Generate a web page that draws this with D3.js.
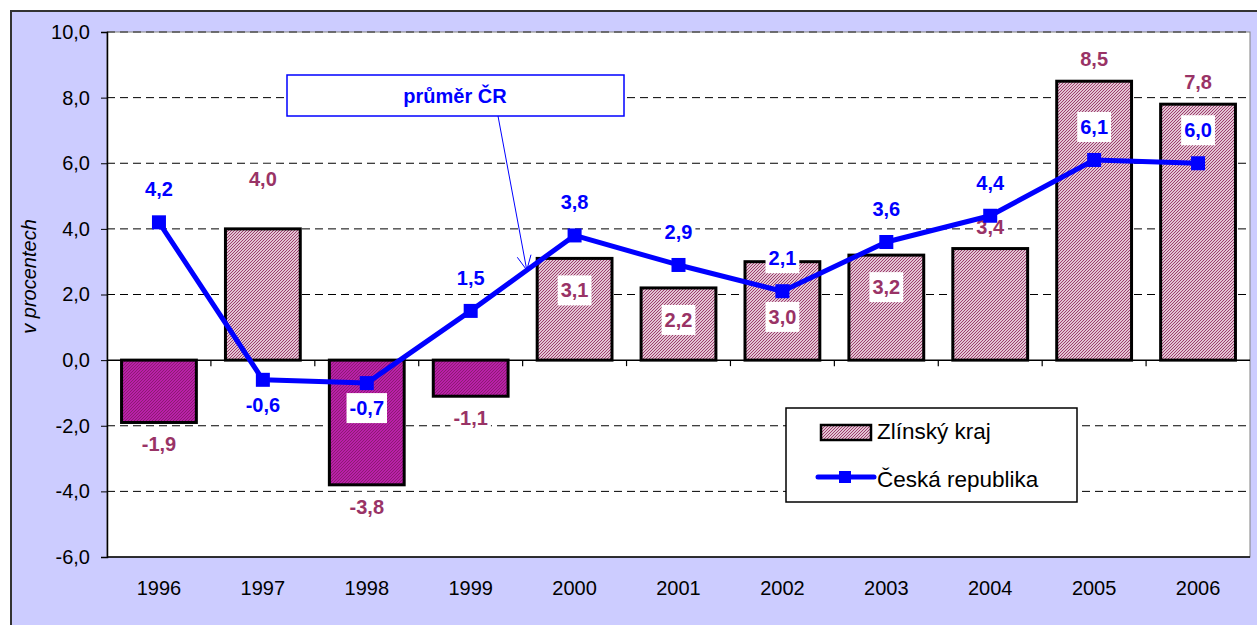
<!DOCTYPE html>
<html>
<head>
<meta charset="utf-8">
<script src="https://cdn.jsdelivr.net/npm/d3@7"></script>
<style>
body { margin: 0; background: #fff; }
svg text { font-family: "Liberation Sans", Arial, sans-serif; }
</style>
</head>
<body>
<div id="chart"></div>
<script>
// hodnoty
let years = ['1996', '1997', '1998', '1999', '2000', '2001', '2002', '2003', '2004', '2005', '2006']
let zlinValues = [-1.9, 4.0, -3.8, -1.1, 3.1, 2.2, 3.0, 3.2, 3.4, 8.5, 7.8]
let crValues = [4.2, -0.6, -0.7, 1.5, 3.8, 2.9, 2.1, 3.6, 4.4, 6.1, 6.0]
let yTicks = [-6, -4, -2, 0, 2, 4, 6, 8, 10]
let barLabelPlace = ['out', 'high', 'out', 'out', 'in', 'in', 'mid', 'in', 'out', 'out', 'out']
let lineLabelPlace = ['above', 'below', 'below', 'above', 'above', 'above', 'above', 'above', 'above', 'above', 'above']
let seriesNames = ['Zlínský kraj', 'Česká republika']
let yTitle = 'v procentech'
let calloutText = 'průměr ČR'

let width = 1257
let height = 625
let plot = { left: 107, top: 32, right: 1250, bottom: 557 }

let locale = d3.formatLocale({ decimal: ',', thousands: ' ', grouping: [3], currency: ['', ''], minus: '-' })
let fmt = locale.format('.1f')

let svg = d3.select('#chart').append('svg')
    .attr('width', width)
    .attr('height', height)

let defs = svg.append('defs')
function hatch(id, bg, fg) {
    let p = defs.append('pattern')
        .attr('id', id)
        .attr('patternUnits', 'userSpaceOnUse')
        .attr('width', 3)
        .attr('height', 3)
    p.append('rect').attr('width', 3).attr('height', 3).attr('fill', bg)
    p.append('path')
        .attr('d', 'M0,3 L3,0 M-1,1 L1,-1 M2,4 L4,2')
        .attr('stroke', fg)
        .attr('stroke-width', 1.1)
}
hatch('pos-hatch', '#ffffff', '#993366')
hatch('neg-hatch', '#cc22c0', '#8a1a6e')

// pozadi
svg.append('rect')
    .attr('x', 11).attr('y', 11)
    .attr('width', width + 10).attr('height', height + 10)
    .attr('fill', '#ccccff')
    .attr('stroke', '#333')
    .attr('stroke-width', 2)

svg.append('rect')
    .attr('x', plot.left).attr('y', plot.top)
    .attr('width', plot.right - plot.left).attr('height', plot.bottom - plot.top)
    .attr('fill', '#fff')
    .attr('stroke', '#808080')
    .attr('stroke-width', 1)

let x = d3.scaleBand()
    .domain(years)
    .range([plot.left, plot.right])
    .paddingInner(0.28)
    .paddingOuter(0.14)
let step = x.step()
let cx = d => x(d) + x.bandwidth() / 2

let y = d3.scaleLinear()
    .domain([-6, 10])
    .range([plot.bottom, plot.top])

// mrizka
svg.append('g')
    .selectAll('line')
    .data(yTicks.filter(t => t != -6 && t != 0))
    .enter()
    .append('line')
        .attr('x1', plot.left).attr('x2', plot.right)
        .attr('y1', d => y(d)).attr('y2', d => y(d))
        .attr('stroke', d => d == 10 ? '#555' : '#000')
        .attr('stroke-width', d => d == 10 ? 1.5 : 1)
        .attr('stroke-dasharray', '8,5')

// osa y
let yAxis = svg.append('g')
    .attr('transform', `translate(${plot.left},0)`)
    .call(d3.axisLeft(y).tickValues(yTicks).tickFormat(fmt).tickSize(6).tickPadding(11))
yAxis.select('.domain').attr('stroke', '#000').attr('stroke-width', 1.5)
yAxis.selectAll('text').attr('font-size', 20).attr('fill', '#000')
    .style('font-family', '"Liberation Sans", Arial, sans-serif')

svg.append('line')
    .attr('x1', plot.left).attr('x2', plot.right)
    .attr('y1', plot.bottom).attr('y2', plot.bottom)
    .attr('stroke', '#000').attr('stroke-width', 1.5)

svg.append('text')
    .attr('transform', `translate(36,${(plot.top + plot.bottom) / 2 - 18}) rotate(-90)`)
    .attr('text-anchor', 'middle')
    .attr('font-size', 20)
    .attr('font-style', 'italic')
    .text(yTitle)

// popisky let
svg.append('g')
    .selectAll('text')
    .data(years)
    .enter()
    .append('text')
        .attr('x', d => cx(d))
        .attr('y', plot.bottom + 38)
        .attr('text-anchor', 'middle')
        .attr('font-size', 20)
        .text(d => d)

// sloupce
let barData = years.map((year, i) => ({ year, value: zlinValues[i], place: barLabelPlace[i] }))
svg.append('g')
    .selectAll('rect')
    .data(barData)
    .enter()
    .append('rect')
        .attr('x', d => x(d.year))
        .attr('width', x.bandwidth())
        .attr('y', d => y(Math.max(0, d.value)))
        .attr('height', d => Math.abs(y(d.value) - y(0)))
        .attr('fill', d => d.value < 0 ? 'url(#neg-hatch)' : 'url(#pos-hatch)')
        .attr('stroke', '#000')
        .attr('stroke-width', 3)

// nulova osa s carkami
svg.append('line')
    .attr('x1', plot.left).attr('x2', plot.right)
    .attr('y1', y(0)).attr('y2', y(0))
    .attr('stroke', '#000').attr('stroke-width', 1.5)
svg.append('g')
    .selectAll('line')
    .data(d3.range(1, years.length))
    .enter()
    .append('line')
        .attr('x1', i => plot.left + i * step).attr('x2', i => plot.left + i * step)
        .attr('y1', y(0)).attr('y2', y(0) + 6)
        .attr('stroke', '#000').attr('stroke-width', 1.2)

// popisky hodnot
function addLabels(data, color, posFn) {
    let g = svg.append('g')
    let items = g.selectAll('g.lbl')
        .data(data)
        .enter()
        .append('g')
            .attr('class', 'lbl')
            .attr('transform', d => `translate(${cx(d.year)},${posFn(d)})`)
    items.append('rect').attr('fill', '#fff')
    let txt = items.append('text')
        .attr('text-anchor', 'middle')
        .attr('dominant-baseline', 'central')
        .attr('font-size', 20)
        .attr('font-weight', 'bold')
        .attr('fill', color)
        .text(d => fmt(d.value))
    txt.each(function() {
        let bb = this.getBBox()
        d3.select(this.parentNode).select('rect')
            .attr('x', bb.x - 3).attr('y', bb.y - 4)
            .attr('width', bb.width + 6).attr('height', bb.height + 8)
    })
}

addLabels(barData, '#993366', d => {
    if (d.place == 'in') return y(d.value) + 32
    if (d.place == 'mid') return (y(d.value) + y(0)) / 2 + 6
    if (d.place == 'high') return y(d.value) - 50
    return d.value < 0 ? y(d.value) + 22 : y(d.value) - 22
})

// cara CR
let lineData = years.map((year, i) => ({ year, value: crValues[i], place: lineLabelPlace[i] }))
svg.append('path')
    .datum(lineData)
    .attr('d', d3.line().x(d => cx(d.year)).y(d => y(d.value)))
    .attr('fill', 'none')
    .attr('stroke', '#0000ff')
    .attr('stroke-width', 5)
    .attr('stroke-linejoin', 'round')
svg.append('g')
    .selectAll('rect')
    .data(lineData)
    .enter()
    .append('rect')
        .attr('x', d => cx(d.year) - 7)
        .attr('y', d => y(d.value) - 7)
        .attr('width', 14)
        .attr('height', 14)
        .attr('fill', '#0000ff')

addLabels(lineData, '#0000ff', d => d.place == 'above' ? y(d.value) - 33 : y(d.value) + 25)

// popisek prumer CR
let i0 = years.indexOf('1999')
let frac = 0.54
let ax = cx(years[i0]) + frac * step
let ay = y(crValues[i0] + frac * (crValues[i0 + 1] - crValues[i0]))
let box = { x: 287, y: 75, w: 337, h: 41 }
let sx = 498, sy = box.y + box.h
svg.append('line')
    .attr('x1', sx).attr('y1', sy)
    .attr('x2', ax).attr('y2', ay)
    .attr('stroke', '#0000ff').attr('stroke-width', 1)
let ang = Math.atan2(ay - sy, ax - sx)
let headLen = 16
let spread = 0.45
svg.append('path')
    .attr('d', `M${ax - headLen * Math.cos(ang - spread)},${ay - headLen * Math.sin(ang - spread)} L${ax},${ay} L${ax - headLen * Math.cos(ang + spread)},${ay - headLen * Math.sin(ang + spread)}`)
    .attr('fill', 'none')
    .attr('stroke', '#0000ff')
    .attr('stroke-width', 1)
svg.append('rect')
    .attr('x', box.x).attr('y', box.y)
    .attr('width', box.w).attr('height', box.h)
    .attr('fill', '#fff')
    .attr('stroke', '#0000ff')
    .attr('stroke-width', 1.5)
svg.append('text')
    .attr('x', box.x + 168).attr('y', box.y + box.h / 2)
    .attr('text-anchor', 'middle')
    .attr('dominant-baseline', 'central')
    .attr('font-size', 20)
    .attr('font-weight', 'bold')
    .attr('fill', '#0000ff')
    .text(calloutText)

// legenda
let legend = svg.append('g').attr('transform', 'translate(786,408)')
legend.append('rect')
    .attr('width', 291).attr('height', 94)
    .attr('fill', '#fff')
    .attr('stroke', '#000')
    .attr('stroke-width', 1.5)
legend.append('rect')
    .attr('x', 35).attr('y', 17)
    .attr('width', 50).attr('height', 15)
    .attr('fill', 'url(#pos-hatch)')
    .attr('stroke', '#000')
    .attr('stroke-width', 2.5)
legend.append('line')
    .attr('x1', 32).attr('x2', 88)
    .attr('y1', 69).attr('y2', 69)
    .attr('stroke', '#0000ff')
    .attr('stroke-width', 5)
    .attr('stroke-linecap', 'round')
legend.append('rect')
    .attr('x', 53).attr('y', 63)
    .attr('width', 12).attr('height', 12)
    .attr('fill', '#0000ff')
legend.selectAll('text.leg')
    .data(seriesNames)
    .enter()
    .append('text')
        .attr('class', 'leg')
        .attr('x', 91)
        .attr('y', (d, i) => 31 + i * 48)
        .attr('font-size', 22.5)
        .text(d => d)
</script>
</body>
</html>
